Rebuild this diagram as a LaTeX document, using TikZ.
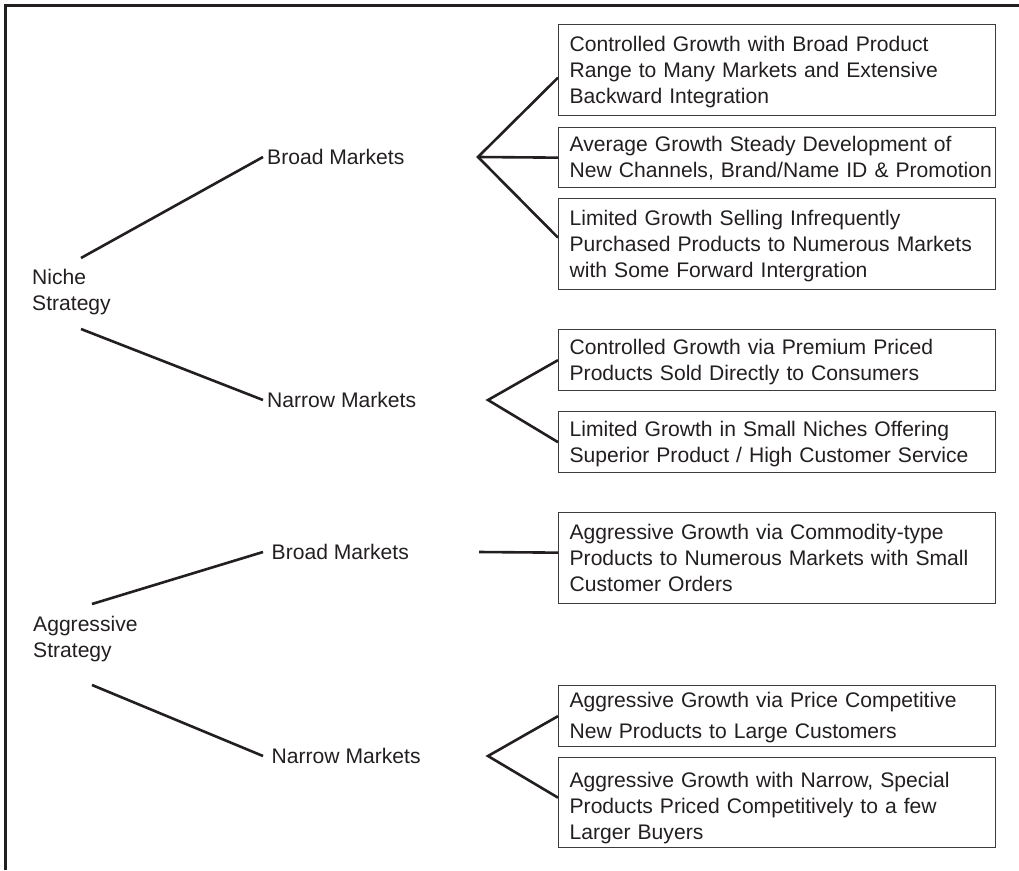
\documentclass[tikz,border=0pt]{standalone}
\usepackage{fontspec}
\setmainfont{Liberation Sans}
\usetikzlibrary{calc}
\definecolor{ink}{RGB}{35,31,32}
\definecolor{boxline}{RGB}{60,60,60}
% struts giving every outcome text the same first-line height and last-line depth
\newcommand{\firstline}{\rule{0pt}{19pt}}
\newcommand{\lastline}{\rule[-5pt]{0pt}{5pt}}
\begin{document}
\begin{tikzpicture}[x=1pt,y=-1pt,
  every node/.style={text=ink, font=\fontsize{21.1}{26}\selectfont},
  marketlabel/.style={anchor=west, inner xsep=4pt, inner ysep=2pt},
  rootlabel/.style={anchor=west, align=left, inner sep=0pt},
  outcome/.style={draw=boxline, line width=1.3pt, anchor=north west,
    minimum width=437pt, inner sep=0pt},
  outtext/.style={text width=415pt, inner sep=0pt, align=left},
  branch/.style={draw=ink, line width=2.6pt},
]
\useasboundingbox (0,0) rectangle (1019,870);

% frame on the top and left sides
\draw[ink, line width=3pt] (5.5,870) -- (5.5,5.5) -- (1019,5.5);

% strategies
\node[rootlabel] (niche) at (32,292.5) {Niche\\Strategy};
\node[rootlabel] (aggr) at (33,639.5) {Aggressive\\Strategy};

% markets
\node[marketlabel] (nb) at (263,157) {Broad Markets};
\node[marketlabel] (nn) at (263,400) {Narrow Markets};
\node[marketlabel, inner xsep=8.5pt] (ab) at (263,552) {Broad Markets};
\node[marketlabel, inner xsep=8.5pt] (an) at (263,756) {Narrow Markets};

% outcome boxes
\node[outcome, minimum height=91pt] (b1) at (558,24) {};
\node[outcome, minimum height=60pt] (b2) at (558,127) {};
\node[outcome, minimum height=91pt] (b3) at (558,198) {};
\node[outcome, minimum height=61pt] (b4) at (558,329) {};
\node[outcome, minimum height=61pt] (b5) at (558,411) {};
\node[outcome, minimum height=91pt] (b6) at (558,512) {};
\node[outcome, minimum height=61pt] (b7) at (558,685) {};
\node[outcome, minimum height=90pt] (b8) at (558,757) {};

% outcome texts
\node[outtext] (t1) at (b1.center)
  {\firstline Controlled Growth with Broad Product\\Range to Many Markets and Extensive\\Backward Integration\lastline};
\node[outtext] (t2) at (b2.center)
  {\firstline Average Growth Steady Development of\\\mbox{New Channels, Brand/Name ID \& Promotion}\lastline};
\node[outtext] (t3) at (b3.center)
  {\firstline Limited Growth Selling Infrequently\\Purchased Products to Numerous Markets\\with Some Forward Intergration\lastline};
\node[outtext] (t4) at (b4.center)
  {\firstline Controlled Growth via Premium Priced\\Products Sold Directly to Consumers\lastline};
\node[outtext] (t5) at (b5.center)
  {\firstline Limited Growth in Small Niches Offering\\Superior Product / High Customer Service\lastline};
\node[outtext] (t6) at (b6.center)
  {\firstline Aggressive Growth via Commodity-type\\Products to Numerous Markets with Small\\Customer Orders\lastline};
\node[outtext, font=\fontsize{21.1}{30.5}\selectfont] (t7) at (b7.center)
  {\firstline Aggressive Growth via Price Competitive\\New Products to Large Customers\lastline};
\node[outtext, yshift=-4pt] (t8) at (b8.center)
  {\firstline Aggressive Growth with Narrow, Special\\Products Priced Competitively to a few\\Larger Buyers\lastline};

% connector ends near the strategy labels and fork points
\coordinate (nicheUp) at (81,258);
\coordinate (nicheDown) at (81,329);
\coordinate (aggrUp) at (92,604);
\coordinate (aggrDown) at (92,685);
\coordinate (j1) at (478,157);
\coordinate (j2) at (488,400);
\coordinate (j3) at (479,552);
\coordinate (j4) at (488,756);

% strategy to market
\draw[branch] (nicheUp) -- (nb.west);
\draw[branch] (nicheDown) -- (nn.west);
\draw[branch] (aggrUp) -- (ab.west);
\draw[branch] (aggrDown) -- (an.west);

% market to outcomes
\draw[branch] ($(b1.west)+(0,7.5)$) -- (j1) -- ($(b3.west)+(0,-6.5)$);
\draw[branch] (j1) -- (b2.west);
\draw[branch] (b4.west) -- (j2) -- (b5.west);
\draw[branch] (j3) -- ($(b6.west)+(0,-5.5)$);
\draw[branch] (b7.west) -- (j4) -- ($(b8.west)+(0,-5)$);
\end{tikzpicture}
\end{document}
